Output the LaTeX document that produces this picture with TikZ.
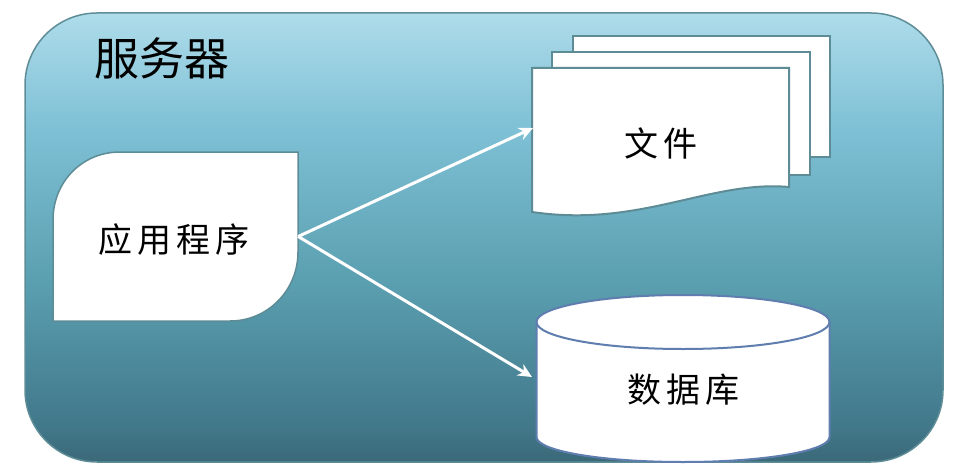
\documentclass[tikz,border=0pt]{standalone}
\usepackage{fontspec}
\newfontfamily\cjk{Noto Sans CJK SC}
\usetikzlibrary{arrows.meta,calc}
\definecolor{bgA}{HTML}{3B6978}
\definecolor{bgB}{HTML}{41788A}
\definecolor{bgC}{HTML}{5A9FB0}
\definecolor{bgD}{HTML}{7EC0D5}
\definecolor{bgE}{HTML}{AEDCEA}
\definecolor{frame}{HTML}{5F8D97}
\definecolor{pageborder}{HTML}{5E8C96}
\definecolor{dbborder}{HTML}{5F7DAE}
\pgfdeclareverticalshading{serverbg}{100bp}{color(0bp)=(bgA); color(25bp)=(bgA); color(29bp)=(bgB); color(45bp)=(bgC); color(62bp)=(bgD); color(75bp)=(bgE); color(100bp)=(bgE)}
\tikzset{
  shapeline/.style={draw=pageborder, fill=white, line width=2pt, line join=miter},
  label/.style={font=\cjk\fontsize{34}{40}\selectfont, text=black, inner sep=0pt},
  flow/.style={draw=white, line width=3pt, -{Stealth[length=14pt,width=13pt]}}
}
\begin{document}
\begin{tikzpicture}[x=1pt,y=-1pt]
\useasboundingbox (0,0) rectangle (974,468);
% server frame
\path[draw=frame, line width=1.5pt, rounded corners=72pt, shading=serverbg]
  (25,13) rectangle (943,462);
\node[font=\cjk\fontsize{45}{50}\selectfont, inner sep=0pt] (title) at (162,58) {服务器};
% application (leaf shape)
\path[shapeline, line width=1.5pt] (53,321) -- (53,220) .. controls (53,182) and (82,152) .. (120,152)
  -- (298,152) -- (298,252) .. controls (298,290) and (268,321) .. (230,321) -- cycle;
\node[label, minimum width=245pt, minimum height=169pt] (app) at (175.5,236.5) {};
\node[label] (apptext) at (174,240) {应\hspace{5pt}用\hspace{5pt}程\hspace{5pt}序};
% files (stacked documents)
\path[shapeline] (573,36) rectangle (830,157);
\path[shapeline] (552,52) rectangle (810,175);
\path[shapeline] (532,68) -- (789,68) -- (789,187)
  .. controls (710,180) and (640,228) .. (532,212) -- cycle;
\node[label] (file) at (661,143) {文\hspace{6pt}件};
\coordinate (fileW) at (533,128);
% database cylinder
\path[draw=dbborder, fill=white, line width=2pt]
  (536.5,322) -- (536.5,437) .. controls (536.5,451) and (602,462) .. (683,462)
  .. controls (764,462) and (829.5,451) .. (829.5,437) -- (829.5,322)
  .. controls (829.5,307) and (764,295) .. (683,295)
  .. controls (602,295) and (536.5,307) .. (536.5,322) -- cycle;
\path[draw=dbborder, line width=2pt]
  (536.5,322) .. controls (536.5,337) and (602,349) .. (683,349)
  .. controls (764,349) and (829.5,337) .. (829.5,322);
\node[label] (db) at (683,390) {数\hspace{5pt}据\hspace{5pt}库};
\coordinate (dbW) at (532,377);
% connectors
\draw[flow] (app.east) -- (fileW);
\draw[flow] (app.east) -- (dbW);
\end{tikzpicture}
\end{document}
